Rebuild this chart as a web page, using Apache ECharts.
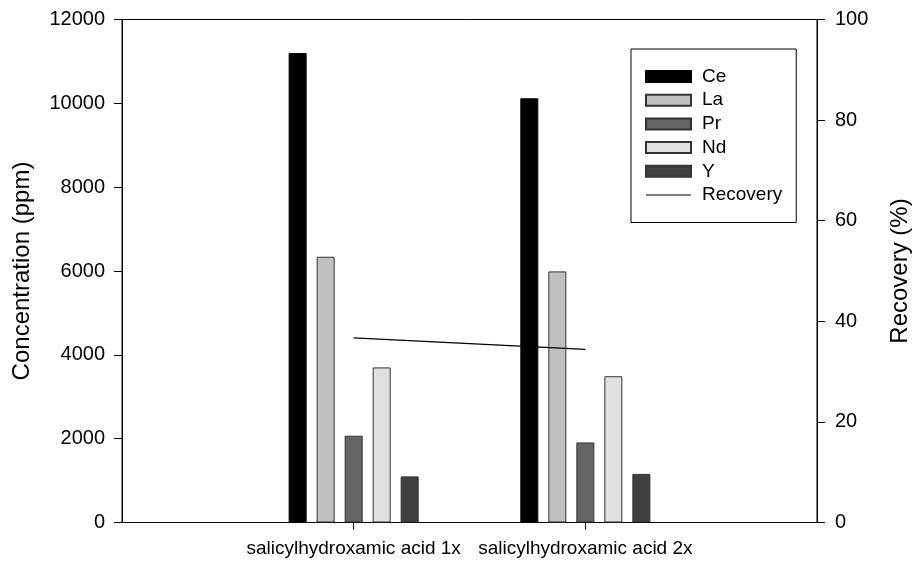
<!DOCTYPE html>
<html>
<head>
<meta charset="utf-8">
<title>Concentration and recovery</title>
<script src="https://cdn.jsdelivr.net/npm/echarts@6/dist/echarts.min.js"></script>
<style>
  html, body { margin: 0; padding: 0; background: #ffffff; }
  #chart { width: 920px; height: 564px; }
</style>
</head>
<body>
<div id="chart"></div>
<script>
// Collector treatments (placed at x = 1 and x = 2 on a 0..3 axis)
const categories = ['salicylhydroxamic acid 1x', 'salicylhydroxamic acid 2x'];
const categoryPositions = [1, 2];

// Element concentrations (ppm)
const ceValues = [11200, 10120];
const laValues = [6340, 5990];
const prValues = [2070, 1910];
const ndValues = [3700, 3490];
const yValues = [1100, 1160];

// Recovery (%)
const recoveryValues = [36.7, 34.4];

// Axis tick values
const leftTicks = [0, 2000, 4000, 6000, 8000, 10000, 12000];
const rightTicks = [0, 20, 40, 60, 80, 100];

const FONT = 'Liberation Sans, Arial, sans-serif';

function pairs(values) {
  return values.map((v, i) => [categoryPositions[i], v]);
}

function barSeries(name, values, fill, border) {
  return {
    name: name,
    type: 'bar',
    data: pairs(values),
    barWidth: 18,
    barGap: '55.6%',
    itemStyle: { color: fill, borderColor: border, borderWidth: 1 }
  };
}

const chart = echarts.init(document.getElementById('chart'), null, { renderer: 'canvas' });

chart.setOption({
  animation: false,
  backgroundColor: '#ffffff',
  textStyle: { fontFamily: FONT, color: '#000' },
  grid: {
    left: 122, right: 98, top: 19.5, bottom: 41.5,
    show: true, borderColor: '#000', borderWidth: 1, backgroundColor: 'transparent'
  },
  legend: {
    left: 631, top: 49,
    orient: 'vertical',
    padding: [18, 14, 18, 14],
    itemWidth: 45, itemHeight: 11, itemGap: 4.7,
    borderColor: '#000', borderWidth: 1,
    backgroundColor: '#fff',
    icon: 'rect',
    textStyle: { fontFamily: FONT, fontSize: 19, color: '#000', padding: [0, 0, 0, 6] },
    data: ['Ce', 'La', 'Pr', 'Nd', 'Y',
      { name: 'Recovery', icon: 'path://M0,0H45V1.2H0Z' }]
  },
  xAxis: {
    type: 'value',
    min: 0, max: 3, interval: 1,
    axisLine: { show: true, lineStyle: { color: '#000', width: 1 } },
    axisTick: { show: true, length: 7, customValues: categoryPositions, lineStyle: { color: '#000' } },
    axisLabel: {
      customValues: categoryPositions,
      formatter: v => categories[categoryPositions.indexOf(v)] || '',
      fontFamily: FONT, fontSize: 19, color: '#000', margin: 17
    },
    splitLine: { show: false }
  },
  yAxis: [
    {
      type: 'value', position: 'left',
      min: leftTicks[0], max: leftTicks[leftTicks.length - 1], interval: 2000,
      name: 'Concentration (ppm)', nameLocation: 'middle', nameRotate: 90, nameGap: 88,
      nameTextStyle: { fontFamily: FONT, fontSize: 24, color: '#000' },
      axisLine: { show: true, lineStyle: { color: '#000', width: 1 } },
      axisTick: { show: true, length: 8, lineStyle: { color: '#000' } },
      axisLabel: { fontFamily: FONT, fontSize: 20, color: '#000', margin: 17, formatter: v => String(v) },
      splitLine: { show: false }
    },
    {
      type: 'value', position: 'right',
      min: rightTicks[0], max: rightTicks[rightTicks.length - 1], interval: 20,
      name: 'Recovery (%)', nameLocation: 'middle', nameRotate: 90, nameGap: 71,
      nameTextStyle: { fontFamily: FONT, fontSize: 24, color: '#000' },
      axisLine: { show: true, lineStyle: { color: '#000', width: 1 } },
      axisTick: { show: true, length: 8, lineStyle: { color: '#000' } },
      axisLabel: { fontFamily: FONT, fontSize: 20, color: '#000', margin: 18, formatter: v => String(v) },
      splitLine: { show: false }
    }
  ],
  series: [
    barSeries('Ce', ceValues, '#000000', '#000000'),
    barSeries('La', laValues, '#c0c0c0', '#333333'),
    barSeries('Pr', prValues, '#646464', '#333333'),
    barSeries('Nd', ndValues, '#e0e0e0', '#333333'),
    barSeries('Y', yValues, '#404040', '#333333'),
    {
      name: 'Recovery',
      type: 'line',
      yAxisIndex: 1,
      data: pairs(recoveryValues),
      symbol: 'none',
      itemStyle: { color: '#000' },
      lineStyle: { color: '#000', width: 1.2 },
      z: 5
    }
  ]
});
</script>
</body>
</html>
